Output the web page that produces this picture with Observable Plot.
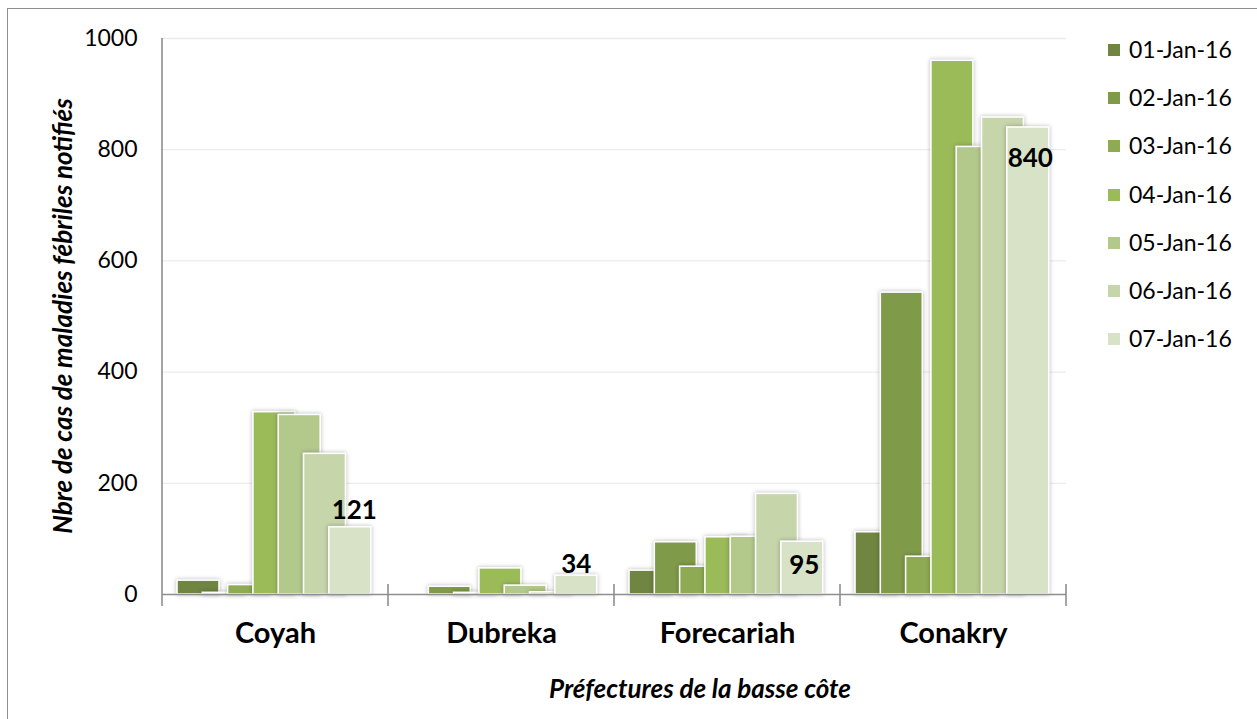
<!DOCTYPE html>
<html><head><meta charset="utf-8">
<script src="https://cdn.jsdelivr.net/npm/d3@7"></script>
<script src="https://cdn.jsdelivr.net/npm/@observablehq/plot@0.6"></script>
<style>
body{margin:0;background:#fff;font-family:Lato,sans-serif;}
#wrap{position:relative;width:1257px;height:719px;overflow:hidden;background:#fff;}
#border{position:absolute;left:7px;top:8px;width:1400px;height:900px;border-left:1.5px solid #8e8e8e;border-top:1.5px solid #8e8e8e;box-sizing:border-box;}
#chart{position:absolute;left:0;top:0;}
.ytitle{position:absolute;left:62px;top:316px;transform:translate(-50%,-50%) rotate(-90deg);white-space:nowrap;font:italic 700 26px Lato,sans-serif;color:#000;}
.xtitle{position:absolute;left:700px;top:688px;transform:translate(-50%,-50%);white-space:nowrap;font:italic 700 26px Lato,sans-serif;color:#000;}
.legend{position:absolute;left:1108px;top:36px;}
.legend .item{position:relative;height:48.2px;font:400 23px Lato,sans-serif;color:#000;}
.legend .sw{position:absolute;left:0;top:8px;width:12px;height:12px;}
.legend .lb{position:absolute;left:21px;top:0;line-height:26px;white-space:nowrap;}
</style></head><body>
<div id="wrap"><div id="border"></div><div id="chart"></div>
<div class="ytitle">Nbre de cas de maladies fébriles notifiés</div>
<div class="xtitle">Préfectures de la basse côte</div>
<div class="legend" id="legend"></div>
</div>
<script>
// ---- data ----
const categories = ["Coyah", "Dubreka", "Forecariah", "Conakry"];
const seriesNames = ["01-Jan-16", "02-Jan-16", "03-Jan-16", "04-Jan-16", "05-Jan-16", "06-Jan-16", "07-Jan-16"];
const jan01 = [25, 0, 43, 112];
const jan02 = [3, 14, 94, 543];
const jan03 = [17, 3, 50, 68];
const jan04 = [328, 47, 103, 960];
const jan05 = [323, 16, 104, 805];
const jan06 = [253, 4, 181, 858];
const jan07 = [121, 34, 95, 840];
const yTicks = [0, 200, 400, 600, 800, 1000];

// ---- styles ----
const seriesValues = [jan01, jan02, jan03, jan04, jan05, jan06, jan07];
const colors = ["#6f8541", "#7f9a48", "#8eaa53", "#9bbb59", "#b3c98b", "#c6d5aa", "#d8e2c6"];
const W = 1257, H = 719;
const mL = 162, mR = 191, mT = 38, mB = 125;
const bw = (W - mL - mR) / categories.length;
const barW = 42, step = 25.3, firstOff = 15;
const labelOffsets = {Coyah: [4, -17], Dubreka: [0, -11], Forecariah: [2, 24], Conakry: [2, 31]};

const marks = [];
marks.push(Plot.ruleY(yTicks.filter(d => d > 0), {stroke: "#ececec", strokeWidth: 1.3}));
seriesValues.forEach((vals, i) => {
  const left = firstOff + i * step;
  marks.push(Plot.barY(categories, {
    x: d => d,
    y: (d, j) => vals[j],
    fill: colors[i],
    stroke: "#fff",
    strokeWidth: 1.6,
    insetLeft: left,
    insetRight: bw - left - barW
  }));
});
marks.push(Plot.ruleY([0], {stroke: "#8e8e8e", strokeWidth: 1.6}));
const lastCenter = firstOff + 6 * step + barW / 2 - bw / 2;
categories.forEach((c, j) => {
  const [ox, oy] = labelOffsets[c];
  marks.push(Plot.text([c], {
    x: d => d,
    y: () => jan07[j],
    text: () => String(jan07[j]),
    dx: lastCenter + ox,
    dy: oy,
    fontWeight: 700,
    fontSize: 26,
    fill: "#000"
  }));
});
marks.push(Plot.axisY({ticks: yTicks, tickSize: 0, tickPadding: 25, tickFormat: d => String(d), fontSize: 23, label: null}));
marks.push(Plot.axisX({tickSize: 0, tickPadding: 28, fontSize: 29, fontWeight: 700, label: null}));

const chart = Plot.plot({
  width: W, height: H,
  marginLeft: mL, marginRight: mR, marginTop: mT, marginBottom: mB,
  style: {fontFamily: "Lato, sans-serif", color: "#000", background: "transparent", overflow: "visible"},
  x: {domain: categories, padding: 0, label: null},
  y: {domain: [0, 1000], label: null},
  marks
});
document.getElementById("chart").appendChild(chart);

// axis lines and category boundary ticks from the scales
const sx = chart.scale("x"), sy = chart.scale("y");
const svg = d3.select(chart);
const y0 = sy.apply(0), yTop = sy.apply(1000);
const g = svg.append("g").attr("stroke", "#8e8e8e").attr("stroke-width", 1.6);
const xStart = sx.apply(categories[0]);
g.append("line").attr("x1", xStart).attr("x2", xStart).attr("y1", yTop).attr("y2", y0 + 12);
const bounds = categories.map(c => sx.apply(c) + sx.bandwidth);
bounds.forEach(b => g.append("line").attr("x1", b).attr("x2", b).attr("y1", y0 - 10).attr("y2", y0 + 12));
svg.selectAll("g[aria-label=bar] rect").style("filter", "drop-shadow(0px 0px 2px rgba(0,0,0,0.28))");
svg.selectAll("g[aria-label='y-axis tick label'] text, g[aria-label='x-axis tick label'] text").attr("fill", "#000");

// legend
const leg = d3.select("#legend");
seriesNames.forEach((n, i) => {
  const it = leg.append("div").attr("class", "item");
  it.append("div").attr("class", "sw").style("background", colors[i]);
  it.append("div").attr("class", "lb").text(n);
});
</script>
</body></html>
